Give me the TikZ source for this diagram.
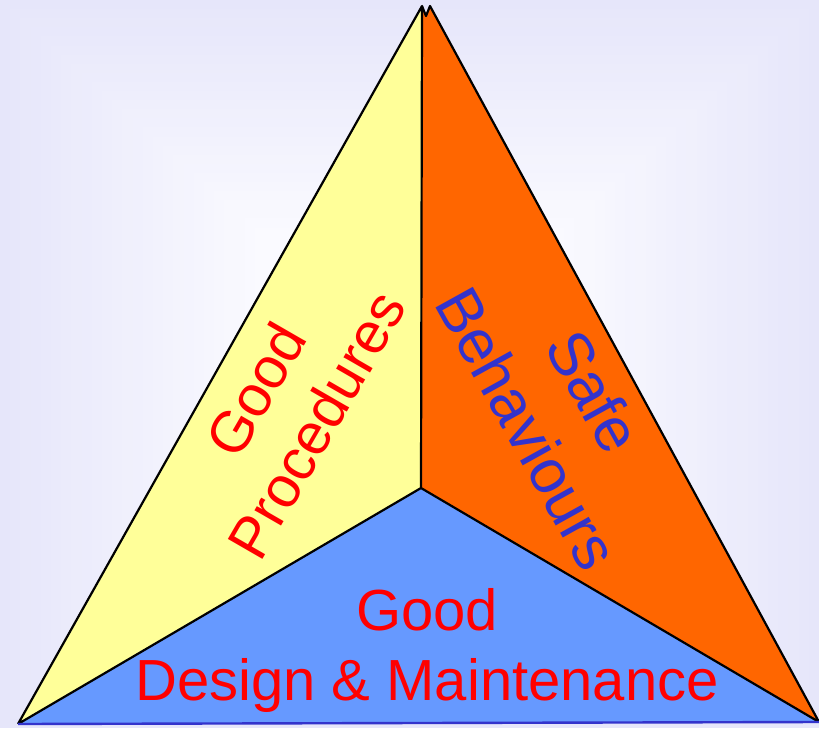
\documentclass[tikz,border=0pt]{standalone}
\usepackage{fontspec}
\setmainfont{Liberation Sans}
\usetikzlibrary{positioning}
\definecolor{lavender}{RGB}{230,230,250}
\definecolor{paleback}{RGB}{250,250,255}
\definecolor{paleyellow}{RGB}{255,255,153}
\definecolor{deeporange}{RGB}{255,102,0}
\definecolor{skyblue}{RGB}{102,153,255}
\definecolor{inkblue}{RGB}{51,51,204}
\tikzset{side/.style={draw=black,line width=2.2pt,line join=round},
base/.style={draw=inkblue,line width=2.4pt},
facetext/.style={font=\fontsize{58}{70}\selectfont, align=center, inner sep=0pt},
redtext/.style={facetext,text=red},
bluetext/.style={facetext,text=inkblue,font=\fontsize{62}{76}\selectfont}}

\begin{document}
\begin{tikzpicture}[x=1pt,y=-1pt]
  \useasboundingbox (0,0) rectangle (819,728);
  % backdrop
  \foreach \i in {0,...,40}{
    \pgfmathsetmacro{\f}{min(100,\i*4)}
    \fill[paleback!\f!lavender] (\i*10.2,\i*9.1) rectangle (819-\i*10.2,728-\i*9.1);
  }
  \coordinate (apex) at (422,6);
  \coordinate (notch) at (426,16);
  \coordinate (tip) at (430,6);
  \coordinate (hub) at (421,488);
  \coordinate (left) at (18,724);
  \coordinate (right) at (819,722);

  \fill[paleyellow] (apex) -- (left) -- (hub) -- cycle;
  \fill[deeporange] (apex) -- (notch) -- (tip) -- (right) -- (hub) -- cycle;
  \fill[skyblue] (hub) -- (left) -- (right) -- cycle;

  \draw[side] (left) -- (apex) -- (hub) -- (left);
  \draw[side] (hub) -- (right) -- (tip) -- (notch) -- (apex);
  \draw[base] (left) -- (right);

  \node (procedures) [redtext,rotate=60] at (286,407) {Good\\Procedures};
  \node (behaviours) [bluetext,rotate=-61] at (561,410) {Safe\\Behaviours};
  \node (design) [redtext] at (427,650) {Good\\Design \& Maintenance};
\end{tikzpicture}
\end{document}
